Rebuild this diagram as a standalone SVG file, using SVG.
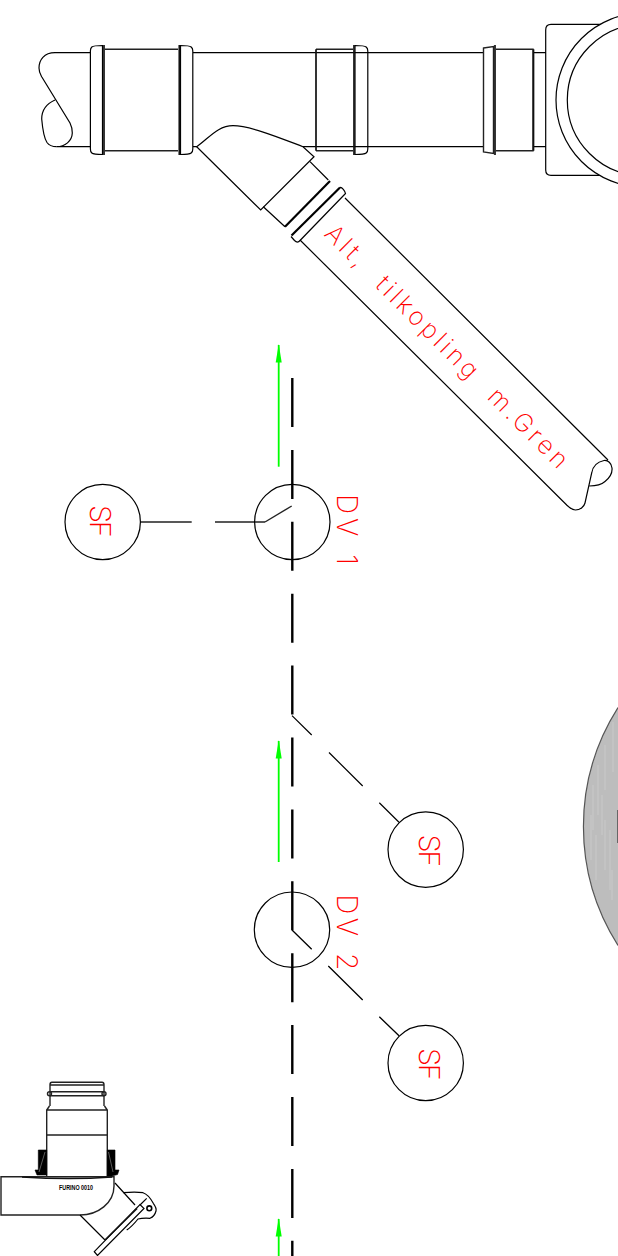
<svg xmlns="http://www.w3.org/2000/svg" width="618" height="1256" viewBox="0 0 618 1256">
<style>
.l{fill:none;stroke:#000;stroke-width:1.2}
.m{fill:none;stroke:#222;stroke-width:1.4}
.t{fill:none;stroke:#000;stroke-width:2.2}
.k{fill:none;stroke:#111;stroke-width:1.7}
.c{fill:#fff;stroke:#000;stroke-width:1.2}
.d{fill:none;stroke:#000;stroke-width:1.2}
.r{fill:#ff0000;font-family:"Inter","Liberation Sans",sans-serif;font-weight:200}
.g{fill:none;stroke:#00ff00;stroke-width:1.8}
.b{fill:#000;stroke:#000;stroke-width:.6}
.h{stroke:#cdcdcd;stroke-width:.8;fill:none}
</style>
<defs>
<marker id="ah" markerUnits="userSpaceOnUse" markerWidth="7" markerHeight="19" refX="3.5" refY="1" orient="0" overflow="visible"><path d="M3.500 0L6.500 18.500H.5Z" fill="#00ff00"/></marker>
</defs>
<g id="sphere">
<path d="M618 707.600A221.800 221.800 0 0 0 618 945.400Z" fill="#bdbdbd"/>
<path d="M618 707.600A221.800 221.800 0 0 0 618 945.400" fill="none" stroke="#555" stroke-width="1.2"/>
<path class="h" d="M613 722V772M605 745V790M598 765V815M593 785V830M591 815V860M602 795V835M596 835V880M605 820V870M610 830V890M612 870V900"/>
<path d="M617.500 810V843" stroke="#666" stroke-width="1"/>
</g>
<g id="main-pipe">
<path class="l" d="M193 52.700H316M193 146.700H316M316 52.700H484M316 146.700H484M533 52.700H546M533 146.700H546M193 146.700H197"/>
<path class="l" d="M90 52.700H55C44 52.700 39 60 39 68C39 72 40 73.500 41.700 76.700L70 123C72 127 72.300 130 72.300 133C72 141 65 146.700 56.700 146.700H90"/>
<path class="l" d="M55 100C46 104 41.700 110 41.700 119C42.500 128 44 138 47 142.500C49.500 146 53 146.700 56.700 146.700"/>
<path class="m" d="M105 49.200H178M105 150.700H178M316 49.200H353M316 150.700H353M496 49.200H533V150.700H496"/>
<path class="k" d="M316 49.200V150.700M533.500 49.200V150.700"/>
</g>
<g id="coupling-1">
<path class="l" d="M102.500 45.500C97 45.500 93 46 91.800 47C90.600 48 90.400 49 90.400 51V149C90.400 151 90.600 152 91.800 153C93 154 97 154.500 102.500 154.500Z"/>
<path class="k" d="M104 45V155"/>
</g>
<g id="coupling-2">
<path class="l" d="M180.500 45.500C186 45.500 190 46 191.200 47C192.400 48 192.800 49 192.800 51V149C192.800 151 192.400 152 191.200 153C190 154 186 154.500 180.500 154.500Z"/>
<path class="k" d="M179.300 45V155"/>
</g>
<g id="coupling-3">
<path class="l" d="M355 45.500C361 45.500 365 46 366.200 47C367.400 48 367.800 49 367.800 51V149C367.800 151 367.400 152 366.200 153C365 154 361 154.500 355 154.500Z"/>
<path class="k" d="M354 45V155"/>
</g>
<g id="coupling-4">
<path class="m" d="M483.500 48L493.500 46.500V153.500L483.500 152Z"/>
<path class="k" d="M495 45V155"/>
</g>
<g id="chamber">
<path class="l" d="M618 24.300H551C547.500 24.300 545.700 26 545.700 30V170C545.700 173.500 547.500 175.300 551 175.300H618"/>
<circle class="c" cx="643" cy="100" r="87"/>
<circle class="c" cx="643" cy="100" r="75.700"/>
</g>
<g id="branch">
<path class="c" d="M196.700 146.700C210 137 218 125.700 233 125.700C250 125.700 280 138 303 146.700L314 156.700L260.700 210Z"/>
<path class="l" d="M310 161.700L328.300 180M263.300 206.700L285 226.700"/>
<path class="t" d="M285 226.700L330 181"/>
<path class="t" d="M291.500 235.500L340 187.500"/>
<path class="l" d="M340 187.500C342 187 345 191 345.500 193.500L300.500 240C298 243 296.500 242.500 294.500 240.500L291 236.500"/>
<path class="l" d="M345 198L608 460M300 240L566.700 505C570 508 572 510 575.500 510C580 510 584 507 585 503L591.700 473C593 465 598 461.700 604 460.500C608 460 611.500 463 612 468C612.500 473 609.500 478 605 481.500C601 485 595 486 589.500 486"/>
</g>
<g id="branch-label">
<text class="r" transform="translate(323.300 235) rotate(45)" font-size="25" textLength="332" lengthAdjust="spacing" xml:space="preserve">Alt,  tilkopling  m.Gren</text>
</g>
<g id="connectors">
<path class="t" stroke-dasharray="49 22.900" d="M292.300 378V1256" style="stroke-width:2.400"/>
<path class="g" marker-end="url(#ah)" d="M278.700 466.700V345"/>
<path class="g" marker-end="url(#ah)" d="M278.700 862V741"/>
<path class="g" marker-end="url(#ah)" d="M278.700 1256V1219"/>
<path class="m" d="M140.500 522H191.700M215 522H265"/>
<path class="m" d="M265 522L291.700 506"/>
<path class="d" d="M292 715.600L311.700 735M329 752.500L362.700 786M379.300 802.800L399 822.200"/>
<path class="d" d="M292 930L311.700 949.300M328.300 966L362.700 1000M379.300 1016.700L399 1035.700" style="stroke-width:1.300"/>
</g>
<g id="valve-1">
<circle class="d" cx="292.300" cy="522" r="37.700"/>
<text class="r" transform="translate(337.300 494) rotate(90)" font-size="28" textLength="71" xml:space="preserve">DV 1</text>
</g>
<g id="sf-1">
<circle class="d" cx="102.700" cy="522" r="37.700"/>
<text class="r" transform="translate(90 505) rotate(90)" font-size="29" textLength="32.700">SF</text>
</g>
<g id="sf-2">
<circle class="d" cx="425.700" cy="849.600" r="37.700"/>
<text class="r" transform="translate(419 834.600) rotate(90)" font-size="29" textLength="32.700">SF</text>
</g>
<g id="valve-2">
<circle class="d" cx="292" cy="929.700" r="37.700"/>
<text class="r" transform="translate(337.300 894.300) rotate(90)" font-size="28" textLength="76" xml:space="preserve">DV 2</text>
</g>
<g id="sf-3">
<circle class="d" cx="425.700" cy="1063" r="37.700"/>
<text class="r" transform="translate(419 1048) rotate(90)" font-size="29" textLength="32.700">SF</text>
</g>
<g id="device">
<path class="m" d="M50 1106V1084.500Q50 1082.300 52 1082.300H102Q104 1082.300 104 1084.500V1106M50 1085H104M50 1091.700H104M50 1095.700H104"/>
<circle class="m" cx="49.500" cy="1093.700" r="2"/>
<circle class="m" cx="104" cy="1093.700" r="2"/>
<path class="m" d="M49.500 1106L46.700 1110V1177M104.500 1106L107.300 1110V1177M46.700 1110H107.300M46.700 1135H107.300"/>
<path class="b" d="M38.300 1150H46.700V1175L37 1175L35 1170H38.300Z"/>
<path class="b" d="M107.300 1150H115V1170H119L117.500 1174.500L112 1176H107.300Z"/>
<path d="M45 1152L39 1172M108.500 1152L113 1172" stroke="#999" stroke-width=".6" fill="none"/>
<path class="m" d="M80 1215H1V1176.700H114V1186C114 1203 98 1215 80 1215"/>
<path class="k" d="M22 1177Q70 1180 112 1177"/>
<path class="l" d="M115 1183L135 1205M80 1215L105 1240"/>
<path class="c" d="M94.300 1251.700L140 1204.500L144 1208.500L97.500 1255.500Z"/>
<path class="k" d="M105 1240L137 1208.300"/>
<path class="l" d="M123.300 1192.700C131 1192 138 1192 143 1192.700C147 1194 151 1199 153.300 1203.300C156 1207 156.500 1209 156 1211C155 1215 153 1217 150 1218.300C145 1218 140 1218.500 138 1219C134 1224 130 1228 126.700 1230M140 1205L146.700 1198.300"/>
<circle cx="149.300" cy="1208.300" r="2.400" fill="none" stroke="#000" stroke-width="1.600"/>
<text x="59" y="1190" font-family="'Liberation Sans',sans-serif" font-size="6.500" font-weight="700" textLength="34" lengthAdjust="spacingAndGlyphs" fill="#000">FURINO 0010</text>
</g>
</svg>
